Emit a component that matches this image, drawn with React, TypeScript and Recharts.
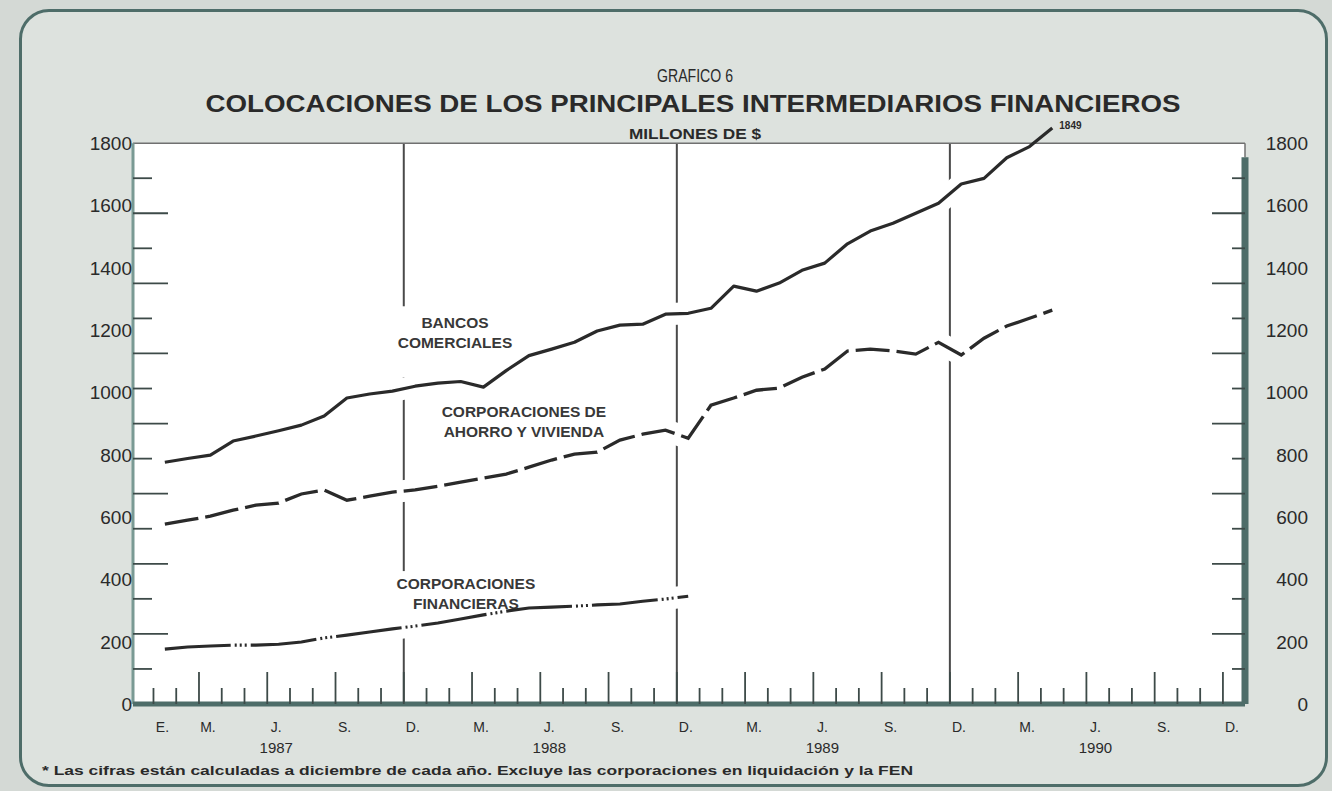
import React from "react";
import {
  LineChart,
  Line,
  XAxis,
  YAxis,
  ReferenceLine,
  ReferenceArea,
  ReferenceDot,
  LabelList,
} from "recharts";

// Colores tomados del impreso escaneado
const PAGE = "#d4d9d5";
const CARD = "#dde2de";
const INK = "#2a2a2a";
const TEAL = "#4e6d69";
const TEAL_SOFT = "#7a9a94";
const FONT = "'Liberation Sans', Arial, Helvetica, sans-serif";

// meses de enero 1987 a diciembre 1990; solo se rotulan los trimestres
const monthLabels = [
  "E.", "", "M.", "", "", "J.", "", "", "S.", "", "", "D.",
  "", "", "M.", "", "", "J.", "", "", "S.", "", "", "D.",
  "", "", "M.", "", "", "J.", "", "", "S.", "", "", "D.",
  "", "", "M.", "", "", "J.", "", "", "S.", "", "", "D.",
];
const years = ["1987", "1988", "1989", "1990"];

// millones de $, saldo a fin de cada mes desde enero de 1987
const bancosComerciales = [
  776, 788, 799, 844, 860, 877, 895, 924, 982, 995, 1004, 1020,
  1030, 1035, 1017, 1070, 1118, 1139, 1161, 1197, 1216, 1219, 1251, 1254,
  1270, 1341, 1325, 1351, 1392, 1415, 1477, 1518, 1543, 1575, 1607, 1669,
  1687, 1753, 1789, 1849,
];
const ahorroVivienda = [
  577, 590, 603, 622, 638, 645, 674, 687, 654, 667, 680, 687,
  699, 712, 725, 738, 760, 783, 802, 808, 847, 866, 879, 853,
  959, 982, 1007, 1014, 1049, 1075, 1133, 1139, 1133, 1123, 1161, 1120,
  1174, 1213, 1238, 1264,
];
const corporacionesFinancieras = [
  176, 183, 186, 189, 189, 192, 199, 212, 221, 231, 241, 250,
  260, 273, 286, 298, 308, 311, 314, 318, 321, 330, 337, 346,
];

const yLabels = [0, 200, 400, 600, 800, 1000, 1200, 1400, 1600, 1800];
// el impreso tiene 16 marcas entre 0 y 1800, que no coinciden con los rótulos
const yMarks = [
  112.5, 225, 337.5, 450, 562.5, 675, 787.5, 900, 1012.5, 1125, 1237.5,
  1350, 1462.5, 1575, 1687.5,
];

const data = bancosComerciales.map((v, i) => ({
  t: i + 0.5, // fin de mes
  bancos: v,
  ahorro: ahorroVivienda[i],
  financieras: i < corporacionesFinancieras.length ? corporacionesFinancieras[i] : null,
}));

const monthTicks = monthLabels.map((_, i) => i);
const yearEnds = monthTicks.filter((i) => monthLabels[i] === "D." && i < monthLabels.length - 1);
const yTicks = [...yLabels, ...yMarks].sort((a, b) => a - b);

const X_MIN = -0.9;
const X_MAX = 47.97;
const Y_MAX = 1900;
const FRAME_TOP = 1800;
const RIGHT_BAR_TOP = 1755;

function MonthTick({ x, y, payload }: any) {
  const i = payload.value as number;
  const long = i % 3 === 2;
  const label = monthLabels[i];
  const year = i % 12 === 5 ? years[(i - 5) / 12] : null;
  return (
    <g>
      <line x1={x} x2={x} y1={y} y2={y - (long ? 32 : 16)} stroke="#3d4a48" strokeWidth={1.8} />
      {label && (
        <text x={x + 9} y={y + 28} textAnchor="middle" fontSize={14} fontFamily={FONT} fill={INK}>
          {label}
        </text>
      )}
      {year && (
        <text x={x + 9} y={y + 49} textAnchor="middle" fontSize={15} fontFamily={FONT} fill={INK}>
          {year}
        </text>
      )}
    </g>
  );
}

function ValueTick({ x, y, payload, side }: any) {
  const v = payload.value as number;
  const mark = yMarks.indexOf(v);
  const long = mark % 2 === 1;
  const dir = side === "left" ? 1 : -1;
  const len = side === "left" ? (long ? 35 : 19) : long ? 33 : 13;
  return (
    <g>
      {mark >= 0 && (
        <line x1={x} x2={x + dir * len} y1={y} y2={y} stroke="#3d4a48" strokeWidth={1.8} />
      )}
      {yLabels.includes(v) && (
        <text
          x={side === "left" ? x - 1 : x + 63}
          y={y + 7}
          textAnchor="end"
          fontSize={19}
          fontFamily={FONT}
          fill={INK}
        >
          {v}
        </text>
      )}
    </g>
  );
}

function TextBlock({ cx, cy, lines, box }: any) {
  return (
    <g>
      <rect x={cx - box[0]} y={cy - box[1]} width={box[0] * 2} height={box[1] + box[2]} fill="#fff" />
      {lines.map((s: string, k: number) => (
        <text
          key={k}
          x={cx}
          y={cy - 4 + k * 20}
          textAnchor="middle"
          fontSize={15.5}
          fontWeight={700}
          fontFamily={FONT}
          fill="#383838"
        >
          {s}
        </text>
      ))}
    </g>
  );
}

function EndValue(p: any) {
  if (p.index !== bancosComerciales.length - 1) return null;
  const x = p.x ?? p.viewBox?.x;
  const y = p.y ?? p.viewBox?.y;
  return (
    <text x={x + 7} y={y + 1} fontSize={10} fontWeight={700} fontFamily={FONT} fill={INK}>
      {p.value}
    </text>
  );
}

export default function App() {
  return (
    <div style={{ position: "absolute", left: 0, top: 0, width: 1332, height: 791, background: PAGE }}>
      <div
        style={{
          position: "absolute",
          left: 19,
          top: 9,
          width: 1303,
          height: 772,
          border: `3px solid ${TEAL}`,
          borderRadius: 30,
          background: CARD,
        }}
      />
      <div style={{ position: "absolute", left: 0, top: 0 }}>
        <LineChart width={1332} height={791} data={data} margin={{ top: 112, right: 27, bottom: 27, left: 73 }}>
          <ReferenceArea
            x1={X_MIN}
            x2={X_MAX}
            y1={0}
            y2={FRAME_TOP}
            fill="#ffffff"
            fillOpacity={1}
            stroke="none"
            zIndex={-90}
          />
          <XAxis
            dataKey="t"
            type="number"
            domain={[X_MIN, X_MAX]}
            ticks={monthTicks}
            interval={0}
            tickSize={0}
            tickMargin={0}
            tick={<MonthTick />}
            axisLine={{ stroke: TEAL, strokeWidth: 5 }}
            tickLine={false}
            height={60}
          />
          <YAxis
            domain={[0, Y_MAX]}
            ticks={yTicks}
            interval={0}
            tickSize={0}
            tickMargin={0}
            tick={<ValueTick side="left" />}
            axisLine={false}
            tickLine={false}
            width={60}
          />
          <YAxis
            yAxisId="right"
            orientation="right"
            domain={[0, Y_MAX]}
            ticks={yTicks}
            interval={0}
            tickSize={0}
            tickMargin={0}
            tick={<ValueTick side="right" />}
            axisLine={false}
            tickLine={false}
            width={60}
          />

          {/* líneas de fin de año */}
          {yearEnds.map((m) => (
            <ReferenceLine
              key={m}
              segment={[{ x: m, y: 0 }, { x: m, y: FRAME_TOP }]}
              stroke="#4a4a4a"
              strokeWidth={2}
              zIndex={100}
            />
          ))}

          {/* halos blancos que cortan las líneas verticales donde pasan las series */}
          {["bancos", "ahorro", "financieras"].map((k) => (
            <Line
              key={`halo-${k}`}
              yAxisId="right"
              dataKey={k}
              stroke="#ffffff"
              strokeWidth={22}
              dot={false}
              activeDot={false}
              legendType="none"
              isAnimationActive={false}
              zIndex={200}
            />
          ))}

          {/* franja sobre el marco: tapa el halo que sale por arriba */}
          <ReferenceArea
            x1={X_MIN}
            x2={X_MAX}
            y1={FRAME_TOP}
            y2={Y_MAX}
            fill={CARD}
            fillOpacity={1}
            stroke="none"
            zIndex={250}
          />

          {/* marco del gráfico */}
          <ReferenceLine
            segment={[{ x: X_MIN, y: FRAME_TOP }, { x: X_MAX, y: FRAME_TOP }]}
            stroke="#707070"
            strokeWidth={1.5}
            zIndex={260}
          />
          <ReferenceLine
            segment={[{ x: X_MIN, y: 0 }, { x: X_MIN, y: FRAME_TOP }]}
            stroke={TEAL_SOFT}
            strokeWidth={3}
            zIndex={260}
          />
          <ReferenceLine
            segment={[{ x: X_MAX, y: RIGHT_BAR_TOP }, { x: X_MAX, y: FRAME_TOP }]}
            stroke="#707070"
            strokeWidth={1.5}
            zIndex={260}
          />
          <ReferenceLine
            segment={[{ x: X_MAX, y: 0 }, { x: X_MAX, y: RIGHT_BAR_TOP }]}
            stroke={TEAL}
            strokeWidth={7}
            zIndex={260}
          />

          <ReferenceDot
            x={13.25}
            y={1193}
            r={1}
            zIndex={300}
            shape={(p: any) => (
              <TextBlock cx={p.cx} cy={p.cy} lines={["BANCOS", "COMERCIALES"]} box={[64, 26, 45]} />
            )}
          />
          <ReferenceDot
            x={16.28}
            y={908}
            r={1}
            zIndex={300}
            shape={(p: any) => (
              <TextBlock
                cx={p.cx}
                cy={p.cy}
                lines={["CORPORACIONES DE", "AHORRO Y VIVIENDA"]}
                box={[96, 22, 20]}
              />
            )}
          />
          <ReferenceDot
            x={13.73}
            y={356}
            r={1}
            zIndex={300}
            shape={(p: any) => (
              <TextBlock
                cx={p.cx}
                cy={p.cy}
                lines={["CORPORACIONES", "FINANCIERAS"]}
                box={[88, 22, 24]}
              />
            )}
          />

          <Line
            dataKey="bancos"
            stroke={INK}
            strokeWidth={3.2}
            strokeLinejoin="round"
            dot={false}
            activeDot={false}
            isAnimationActive={false}
            zIndex={400}
          >
            <LabelList dataKey="bancos" content={<EndValue />} />
          </Line>
          <Line
            dataKey="ahorro"
            stroke={INK}
            strokeWidth={3.3}
            strokeDasharray="34 7"
            dot={false}
            activeDot={false}
            isAnimationActive={false}
            zIndex={400}
          />
          <Line
            dataKey="financieras"
            stroke={INK}
            strokeWidth={3.1}
            strokeDasharray="66 4 2 3 2 3 2 4"
            dot={false}
            activeDot={false}
            isAnimationActive={false}
            zIndex={400}
          />
        </LineChart>
      </div>
      <svg
        width={1332}
        height={791}
        style={{ position: "absolute", left: 0, top: 0, pointerEvents: "none" }}
        fontFamily={FONT}
        fill={INK}
      >
        <text x={695} y={82} textAnchor="middle" fontSize={18} textLength={76} lengthAdjust="spacingAndGlyphs">
          GRAFICO 6
        </text>
        <text
          x={693}
          y={112}
          textAnchor="middle"
          fontSize={24}
          fontWeight={700}
          textLength={975}
          lengthAdjust="spacingAndGlyphs"
        >
          COLOCACIONES DE LOS PRINCIPALES INTERMEDIARIOS FINANCIEROS
        </text>
        <text
          x={695}
          y={139}
          textAnchor="middle"
          fontSize={15}
          fontWeight={700}
          textLength={132}
          lengthAdjust="spacingAndGlyphs"
        >
          MILLONES DE $
        </text>
        <text
          x={42}
          y={775}
          fontSize={12.5}
          fontWeight={700}
          textLength={871}
          lengthAdjust="spacingAndGlyphs"
        >
          * Las cifras están calculadas a diciembre de cada año. Excluye las corporaciones en liquidación y la FEN
        </text>
      </svg>
    </div>
  );
}
